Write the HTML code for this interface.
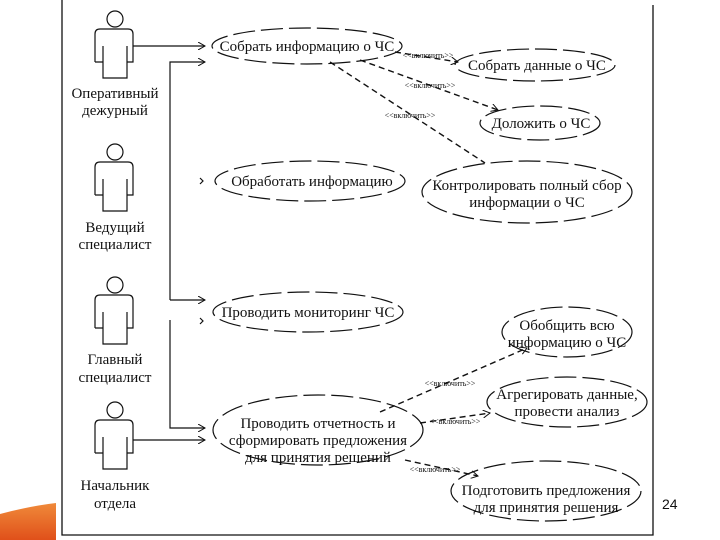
<!DOCTYPE html>
<html><head><meta charset="utf-8"><style>
html,body{margin:0;padding:0;background:#fff;width:720px;height:540px;overflow:hidden}
svg{display:block}
text{font-family:"Liberation Serif","Noto Serif CJK SC",serif;fill:#111}
</style></head><body>
<svg width="720" height="540" viewBox="0 0 720 540" xmlns="http://www.w3.org/2000/svg">
<defs>
<linearGradient id="og" x1="0" y1="0" x2="0" y2="1"><stop offset="0" stop-color="#f08a3a"/><stop offset="1" stop-color="#e0501a"/></linearGradient>
<marker id="ar" markerWidth="8" markerHeight="8" refX="7" refY="4" orient="auto" markerUnits="userSpaceOnUse"><path d="M0,0 L7,4 L0,8" fill="none" stroke="#111" stroke-width="1"/></marker>
</defs>
<path d="M0,514 Q30,506 56,503 L56,540 L0,540 Z" fill="url(#og)"/>
<g fill="none" stroke="#111" stroke-width="1.3">
<path d="M62,0 V535 H653 V5"/>
</g>
<g fill="none" stroke="#111" stroke-width="1.2">
<g id="a1"><circle cx="115" cy="19" r="8"/><path d="M95,62 V34 Q95,29 100,29 H128 Q133,29 133,34 V62 H127 V78 H103 V62 H95 M103,62 V46 M127,62 V46"/></g>
<use href="#a1" y="133"/><use href="#a1" y="266"/><use href="#a1" y="391"/>
<path d="M133,46 H205" marker-end="url(#ar)"/>
<path d="M170,300 V62 H205" marker-end="url(#ar)"/>
<path d="M170,300 H205" marker-end="url(#ar)"/>
<path d="M170,320 V428 H205" marker-end="url(#ar)"/>
<path d="M133,440 H205" marker-end="url(#ar)"/>
<path d="M200,178 l3,3 l-3,3 M200,318 l3,3 l-3,3"/>
</g>
<g fill="none" stroke="#111" stroke-width="1.2" stroke-dasharray="22,6">
<ellipse cx="307" cy="46" rx="95" ry="18"/>
<ellipse cx="535" cy="65" rx="80" ry="16"/>
<ellipse cx="540" cy="123" rx="60" ry="17"/>
<ellipse cx="527" cy="192" rx="105" ry="31"/>
<ellipse cx="310" cy="181" rx="95" ry="20"/>
<ellipse cx="308" cy="312" rx="95" ry="20"/>
<ellipse cx="567" cy="332" rx="65" ry="25"/>
<ellipse cx="567" cy="402" rx="80" ry="25"/>
<ellipse cx="318" cy="430" rx="105" ry="35"/>
<ellipse cx="546" cy="491" rx="95" ry="30"/>
</g>
<g fill="none" stroke="#111" stroke-width="1.4" stroke-dasharray="6,4">
<path d="M395,52 L458,62" marker-end="url(#ar)"/>
<path d="M360,60 L498,110" marker-end="url(#ar)"/>
<path d="M330,62 L485,163"/>
<path d="M380,412 L527,348" marker-end="url(#ar)"/>
<path d="M420,423 L490,413" marker-end="url(#ar)"/>
<path d="M405,460 L478,476" marker-end="url(#ar)"/>
</g>
<g font-size="8" text-anchor="middle">
<text x="428" y="58">&lt;&lt;включить&gt;&gt;</text>
<text x="430" y="88">&lt;&lt;включить&gt;&gt;</text>
<text x="410" y="118">&lt;&lt;включить&gt;&gt;</text>
<text x="450" y="386">&lt;&lt;включить&gt;&gt;</text>
<text x="455" y="424">&lt;&lt;включить&gt;&gt;</text>
<text x="435" y="472">&lt;&lt;включить&gt;&gt;</text>
</g>
<g font-size="15" text-anchor="middle">
<text x="115" y="98">Оперативный</text><text x="115" y="115">дежурный</text>
<text x="115" y="232">Ведущий</text><text x="115" y="249">специалист</text>
<text x="115" y="364">Главный</text><text x="115" y="382">специалист</text>
<text x="115" y="490">Начальник</text><text x="115" y="508">отдела</text>
<text x="307" y="51">Собрать информацию о ЧС</text>
<text x="537" y="70">Собрать данные о ЧС</text>
<text x="541" y="128">Доложить о ЧС</text>
<text x="527" y="190">Контролировать полный сбор</text><text x="527" y="207">информации о ЧС</text>
<text x="312" y="186">Обработать информацию</text>
<text x="308" y="317">Проводить мониторинг ЧС</text>
<text x="567" y="330">Обобщить всю</text><text x="567" y="347">информацию о ЧС</text>
<text x="567" y="399">Агрегировать данные,</text><text x="567" y="416">провести анализ</text>
<text x="318" y="428">Проводить отчетность и</text><text x="318" y="445">сформировать предложения</text><text x="318" y="462">для принятия решений</text>
<text x="546" y="495">Подготовить предложения</text><text x="546" y="512">для принятия решения</text>
</g>
<text x="662" y="509" font-size="14" style="font-family:'Liberation Sans',sans-serif">24</text>
</svg>
</body></html>
